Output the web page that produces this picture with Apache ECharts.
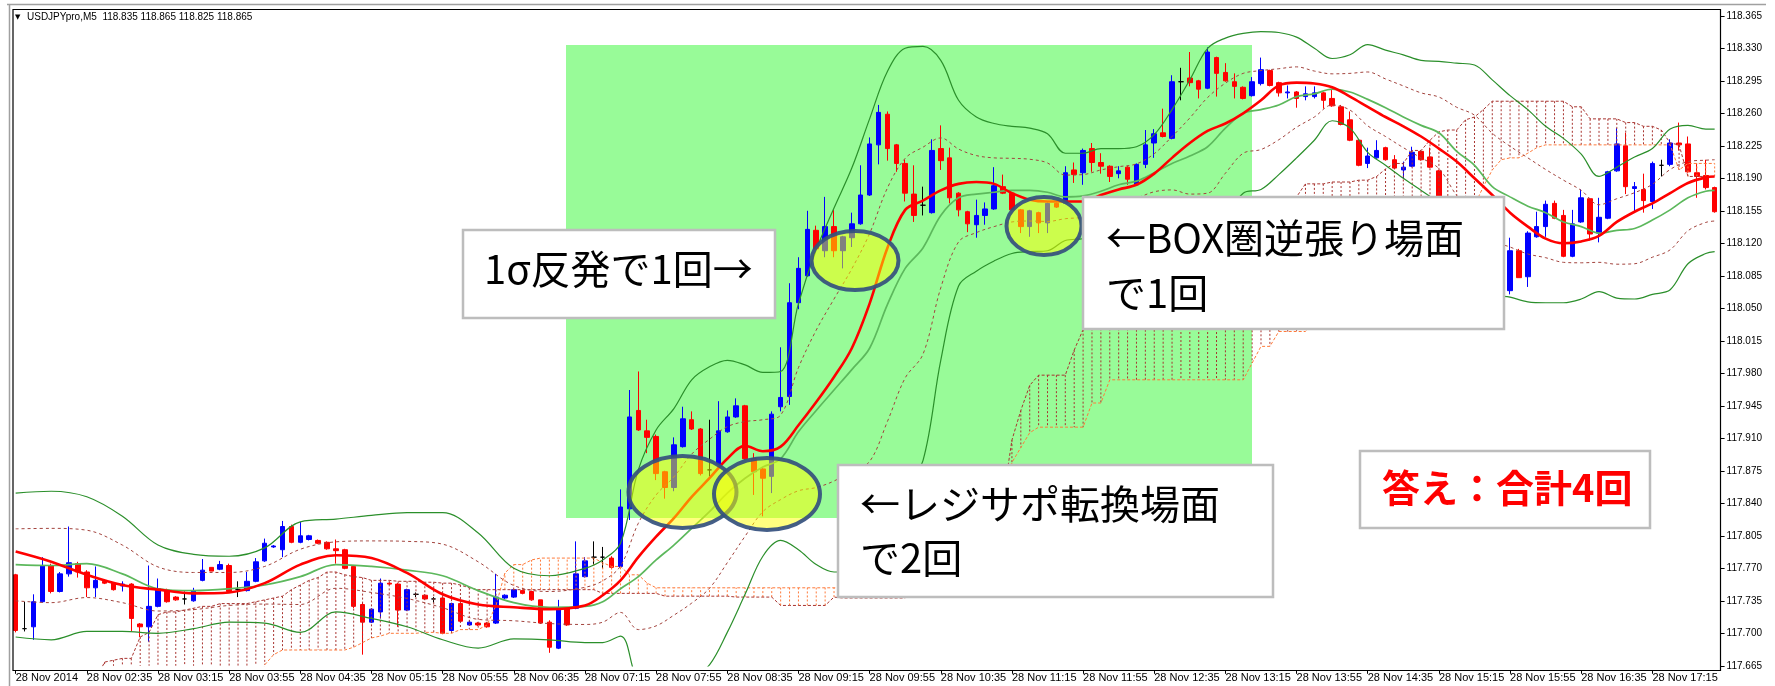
<!DOCTYPE html>
<html><head><meta charset="utf-8">
<script src="https://cdn.jsdelivr.net/npm/echarts@6/dist/echarts.min.js"></script>
<style>html,body{margin:0;padding:0;background:#fff}#c{width:1775px;height:686px}</style>
</head><body><div id="c"></div>
<script>
// ---- axis ticks ----
const tickLabels = ['28 Nov 2014','28 Nov 02:35','28 Nov 03:15','28 Nov 03:55','28 Nov 04:35','28 Nov 05:15','28 Nov 05:55','28 Nov 06:35','28 Nov 07:15','28 Nov 07:55','28 Nov 08:35','28 Nov 09:15','28 Nov 09:55','28 Nov 10:35','28 Nov 11:15','28 Nov 11:55','28 Nov 12:35','28 Nov 13:15','28 Nov 13:55','28 Nov 14:35','28 Nov 15:15','28 Nov 15:55','28 Nov 16:35','28 Nov 17:15'];
const yTicks = [117.665,117.700,117.735,117.770,117.805,117.840,117.875,117.910,117.945,117.980,118.015,118.050,118.085,118.120,118.155,118.190,118.225,118.260,118.295,118.330,118.365];
const yMin = 117.665, yMax = 118.365;

// ---- candles (M5 bars) ----
const opens = [117.763,117.705,117.707,117.734,117.773,117.745,117.764,117.775,117.766,117.749,117.756,117.754,117.751,117.753,117.710,117.707,117.729,117.746,117.739,117.737,117.735,117.757,117.771,117.769,117.773,117.747,117.746,117.756,117.778,117.793,117.790,117.815,117.798,117.801,117.800,117.798,117.791,117.790,117.772,117.731,117.712,117.723,117.754,117.753,117.725,117.742,117.741,117.737,117.738,117.703,117.732,117.709,117.711,117.711,117.711,117.738,117.739,117.746,117.745,117.736,117.712,117.684,117.727,117.727,117.761,117.782,117.782,117.781,117.772,117.834,117.940,117.918,117.912,117.874,117.857,117.901,117.930,117.920,117.876,117.882,117.917,117.933,117.945,117.888,117.877,117.869,117.944,117.955,118.056,118.085,118.134,118.112,118.138,118.112,118.126,118.141,118.172,118.226,118.259,118.226,118.206,118.173,118.161,118.153,118.222,118.212,118.174,118.154,118.140,118.150,118.157,118.181,118.174,118.156,118.138,118.153,118.142,118.163,118.163,118.199,118.196,118.222,118.207,118.203,118.195,118.202,118.183,118.205,118.228,118.239,118.233,118.294,118.298,118.295,118.287,118.320,118.304,118.294,118.288,118.279,118.292,118.306,118.293,118.282,118.283,118.278,118.278,118.282,118.276,118.267,118.253,118.231,118.206,118.212,118.223,118.210,118.199,118.203,118.219,118.213,118.198,118.160,118.135,118.142,118.110,118.090,118.098,118.075,118.069,118.112,118.084,118.127,118.138,118.163,118.150,118.106,118.143,118.168,118.131,118.147,118.198,118.225,118.179,118.178,118.165,118.204,118.205,118.228,118.227,118.196,118.193,118.180];
const closes = [117.703,117.705,117.734,117.773,117.745,117.764,117.776,117.766,117.749,117.757,117.754,117.747,117.753,117.716,117.707,117.729,117.748,117.734,117.736,117.737,117.746,117.768,117.767,117.774,117.745,117.747,117.756,117.777,117.797,117.794,117.815,117.798,117.805,117.805,117.797,117.791,117.789,117.770,117.729,117.712,117.726,117.754,117.753,117.725,117.747,117.742,117.737,117.737,117.700,117.732,117.713,117.712,117.709,117.707,117.739,117.741,117.747,117.743,117.736,117.711,117.685,117.727,117.709,117.764,117.778,117.782,117.782,117.771,117.836,117.933,117.919,117.911,117.872,117.857,117.903,117.931,117.920,117.872,117.876,117.918,117.933,117.945,117.888,117.874,117.867,117.936,117.954,118.056,118.093,118.135,118.114,118.138,118.112,118.127,118.141,118.172,118.227,118.261,118.222,118.206,118.174,118.150,118.161,118.220,118.209,118.169,118.156,118.141,118.150,118.157,118.182,118.174,118.156,118.138,118.155,118.142,118.163,118.159,118.196,118.194,118.220,118.207,118.203,118.192,118.198,118.189,118.205,118.226,118.238,118.235,118.294,118.294,118.293,118.286,118.326,118.303,118.295,118.289,118.276,118.294,118.307,118.290,118.282,118.283,118.276,118.281,118.282,118.274,118.268,118.248,118.231,118.204,118.214,118.220,118.210,118.201,118.202,118.218,118.210,118.202,118.160,118.135,118.142,118.110,118.090,118.098,118.075,118.069,118.112,118.083,118.131,118.138,118.162,118.147,118.106,118.141,118.169,118.130,118.148,118.197,118.227,118.181,118.181,118.166,118.206,118.204,118.228,118.226,118.197,118.192,118.180,118.154];
const lows = [117.701,117.702,117.693,117.733,117.743,117.744,117.761,117.760,117.739,117.739,117.753,117.746,117.745,117.702,117.696,117.691,117.728,117.733,117.735,117.731,117.734,117.756,117.767,117.768,117.744,117.739,117.745,117.755,117.777,117.792,117.782,117.797,117.797,117.800,117.796,117.790,117.775,117.769,117.727,117.677,117.711,117.716,117.752,117.707,117.724,117.739,117.736,117.733,117.699,117.702,117.712,117.708,117.708,117.706,117.710,117.737,117.738,117.742,117.735,117.710,117.679,117.683,117.708,117.726,117.760,117.774,117.770,117.769,117.771,117.822,117.918,117.894,117.865,117.845,117.853,117.900,117.919,117.870,117.869,117.881,117.916,117.932,117.887,117.849,117.826,117.851,117.939,117.946,118.049,118.084,118.113,118.105,118.105,118.093,118.116,118.140,118.171,118.205,118.209,118.197,118.165,118.143,118.150,118.152,118.199,118.163,118.149,118.132,118.126,118.140,118.156,118.173,118.155,118.131,118.127,118.131,118.131,118.158,118.162,118.185,118.183,118.197,118.195,118.186,118.190,118.183,118.182,118.201,118.212,118.234,118.232,118.274,118.289,118.276,118.286,118.278,118.294,118.276,118.275,118.278,118.290,118.289,118.278,118.276,118.266,118.274,118.276,118.265,118.267,118.247,118.230,118.203,118.201,118.211,118.209,118.200,118.190,118.202,118.209,118.201,118.155,118.130,118.128,118.105,118.083,118.085,118.070,118.062,118.065,118.083,118.073,118.126,118.127,118.146,118.105,118.105,118.142,118.123,118.121,118.146,118.197,118.173,118.154,118.153,118.157,118.192,118.203,118.220,118.196,118.169,118.178,118.153];
const highs = [117.764,117.734,117.742,117.782,117.775,117.766,117.815,117.777,117.768,117.772,117.757,117.755,117.756,117.754,117.711,117.773,117.759,117.748,117.740,117.745,117.749,117.780,117.771,117.778,117.775,117.756,117.766,117.781,117.802,117.795,117.821,117.817,117.820,117.806,117.801,117.799,117.801,117.791,117.773,117.733,117.727,117.759,117.755,117.754,117.748,117.744,117.742,117.739,117.739,117.733,117.733,117.714,117.712,117.712,117.764,117.742,117.749,117.747,117.746,117.736,117.714,117.736,117.727,117.799,117.782,117.799,117.793,117.783,117.855,117.962,117.982,117.930,117.914,117.875,117.911,117.944,117.939,117.921,117.930,117.950,117.940,117.953,117.946,117.894,117.878,117.939,118.008,118.077,118.105,118.155,118.139,118.170,118.156,118.128,118.153,118.204,118.234,118.269,118.262,118.227,118.210,118.204,118.181,118.232,118.247,118.223,118.175,118.155,118.167,118.164,118.202,118.194,118.175,118.157,118.156,118.154,118.164,118.164,118.203,118.207,118.222,118.228,118.217,118.204,118.203,118.203,118.206,118.242,118.243,118.265,118.301,118.309,118.326,118.296,118.331,118.321,118.314,118.303,118.289,118.299,118.320,118.307,118.294,118.290,118.284,118.289,118.289,118.283,118.286,118.269,118.262,118.232,118.223,118.231,118.224,118.215,118.208,118.224,118.219,118.223,118.199,118.165,118.150,118.146,118.115,118.104,118.101,118.080,118.126,118.114,118.133,118.154,118.166,118.166,118.156,118.156,118.178,118.169,118.169,118.198,118.244,118.239,118.186,118.195,118.208,118.210,118.232,118.250,118.235,118.206,118.210,118.181];

// ---- Bollinger bands and moving average, read at these bars ----
const bandBars = [0,4,8,12,16,20,24,28,32,36,40,44,48,52,56,60,64,66,68,70,72,74,76,78,80,82,84,86,88,90,92,94,96,98,100,102,104,106,108,110,112,114,116,118,120,122,124,126,128,130,132,134,136,138,140,142,144,146,148,150,152,154,156,158,160,162,164,166,168,170,172,174,176,178,180,182,184,186,188,190,191];
const maVals = [117.788,117.777,117.763,117.752,117.747,117.743,117.744,117.754,117.774,117.784,117.781,117.765,117.742,117.731,117.728,117.726,117.730,117.741,117.757,117.782,117.804,117.824,117.847,117.867,117.888,117.902,117.896,117.901,117.924,117.949,117.976,118.007,118.055,118.115,118.156,118.166,118.177,118.184,118.186,118.184,118.174,118.167,118.165,118.165,118.165,118.172,118.178,118.183,118.195,118.212,118.228,118.241,118.249,118.260,118.274,118.290,118.293,118.292,118.288,118.278,118.267,118.256,118.246,118.235,118.222,118.208,118.190,118.172,118.153,118.138,118.125,118.120,118.122,118.128,118.143,118.154,118.163,118.174,118.185,118.191,118.192];
const midVals = [117.774,117.773,117.775,117.764,117.748,117.746,117.748,117.752,117.761,117.774,117.772,117.768,117.762,117.746,117.733,117.728,117.729,117.734,117.748,117.761,117.779,117.795,117.813,117.831,117.851,117.867,117.879,117.888,117.917,117.940,117.962,117.984,118.007,118.054,118.093,118.115,118.150,118.169,118.173,118.175,118.177,118.177,118.175,118.170,118.171,118.176,118.183,118.187,118.196,118.206,118.214,118.224,118.244,118.260,118.264,118.269,118.278,118.281,118.286,118.283,118.275,118.266,118.256,118.247,118.239,118.219,118.204,118.181,118.170,118.160,118.153,118.143,118.138,118.131,118.134,118.136,118.145,118.156,118.169,118.176,118.177];
const up2Vals = [117.851,117.853,117.847,117.826,117.795,117.785,117.783,117.792,117.820,117.823,117.827,117.830,117.830,117.808,117.770,117.762,117.770,117.779,117.797,117.876,117.919,117.942,117.973,117.987,117.994,117.989,117.981,117.982,118.055,118.113,118.158,118.201,118.254,118.305,118.330,118.332,118.317,118.274,118.256,118.249,118.246,118.244,118.238,118.217,118.217,118.222,118.222,118.224,118.237,118.264,118.296,118.330,118.341,118.346,118.348,118.347,118.342,118.330,118.319,118.323,118.334,118.328,118.323,118.317,118.316,118.314,118.312,118.296,118.279,118.264,118.246,118.233,118.216,118.192,118.202,118.213,118.222,118.243,118.247,118.243,118.243];
const lo2Vals = [117.696,117.693,117.702,117.702,117.700,117.705,117.712,117.711,117.701,117.723,117.716,117.707,117.693,117.684,117.694,117.693,117.690,117.690,117.697,117.647,117.637,117.644,117.652,117.666,117.701,117.742,117.783,117.800,117.790,117.774,117.766,117.766,117.763,117.802,117.857,117.886,117.994,118.074,118.090,118.101,118.109,118.111,118.112,118.123,118.125,118.130,118.143,118.150,118.155,118.149,118.132,118.124,118.147,118.174,118.178,118.194,118.212,118.231,118.252,118.244,118.218,118.204,118.190,118.177,118.162,118.124,118.097,118.066,118.062,118.057,118.056,118.056,118.060,118.068,118.061,118.060,118.065,118.070,118.098,118.109,118.111];
const up1Vals = [117.8125,117.813,117.811,117.795,117.7715,117.7655,117.7655,117.772,117.7905,117.7985,117.7995,117.799,117.796,117.777,117.7515,117.745,117.7495,117.7565,117.7725,117.8185,117.849,117.8685,117.893,117.909,117.9225,117.928,117.930,117.935,117.986,118.0265,118.060,118.0925,118.1305,118.1795,118.2115,118.2235,118.2335,118.2215,118.2145,118.212,118.2115,118.2105,118.2065,118.1935,118.194,118.199,118.2025,118.2055,118.2165,118.235,118.255,118.277,118.2925,118.303,118.306,118.308,118.310,118.3055,118.3025,118.303,118.3045,118.297,118.2895,118.282,118.2775,118.2665,118.258,118.2385,118.2245,118.212,118.1995,118.188,118.177,118.1615,118.168,118.1745,118.1835,118.1995,118.208,118.2095,118.210];
const lo1Vals = [117.735,117.733,117.7385,117.733,117.724,117.7255,117.730,117.7315,117.731,117.7485,117.744,117.7375,117.7275,117.715,117.7135,117.7105,117.7095,117.712,117.7225,117.704,117.708,117.7195,117.7325,117.7485,117.776,117.8045,117.831,117.844,117.8535,117.857,117.864,117.875,117.885,117.928,117.975,118.0005,118.072,118.1215,118.1315,118.138,118.143,118.144,118.1435,118.1465,118.148,118.153,118.163,118.1685,118.1755,118.1775,118.173,118.174,118.1955,118.217,118.221,118.2315,118.245,118.256,118.269,118.2635,118.2465,118.235,118.223,118.212,118.2005,118.1715,118.1505,118.1235,118.116,118.1085,118.1045,118.0995,118.099,118.0995,118.0975,118.098,118.105,118.113,118.1335,118.1425,118.144];

// ---- Ichimoku cloud spans (per bar) ----
const spanA = [117.650,117.650,117.650,117.650,117.650,117.650,117.650,117.650,117.650,117.650,
117.669,117.671,117.673,117.673,117.696,117.701,117.720,117.723,117.723,117.725,
117.727,117.729,117.729,117.732,117.732,117.732,117.732,117.734,117.736,117.738,
117.740,117.747,117.752,117.757,117.760,117.766,117.766,117.763,117.761,117.760,
117.757,117.757,117.757,117.756,117.756,117.756,117.755,117.755,117.754,117.754,
117.752,117.749,117.747,117.747,117.747,117.747,117.747,117.747,117.747,117.747,
117.747,117.747,117.747,117.747,117.747,117.747,117.743,117.743,117.743,117.743,
117.743,117.743,117.743,117.740,117.740,117.740,117.740,117.740,117.740,117.740,
117.740,117.739,117.739,117.739,117.739,117.739,117.730,117.730,117.730,117.730,
117.730,117.730,117.739,117.738,117.738,117.738,117.738,117.738,117.738,117.738,
117.738,117.779,117.779,117.779,117.779,117.779,117.779,117.844,117.844,117.844,
117.844,117.844,117.908,117.940,117.967,117.978,117.978,117.978,117.978,118.005,
118.027,118.037,118.037,118.037,118.037,118.037,118.070,118.070,118.070,118.070,
118.070,118.102,118.102,118.102,118.102,118.102,118.134,118.134,118.134,118.134,
118.134,118.156,118.156,118.156,118.170,118.184,118.184,118.184,118.186,118.186,
118.186,118.188,118.188,118.192,118.200,118.206,118.206,118.220,118.220,118.231,
118.240,118.242,118.242,118.253,118.256,118.264,118.273,118.273,118.273,118.273,
118.273,118.273,118.273,118.273,118.273,118.267,118.267,118.254,118.254,118.254,
118.254,118.250,118.250,118.246,118.246,118.242,118.228,118.226,118.192,118.192,
118.192,118.192];
const spanB = [117.630,117.630,117.630,117.630,117.630,117.630,117.630,117.630,117.630,117.630,
117.630,117.630,117.630,117.630,117.630,117.630,117.630,117.630,117.630,117.630,
117.630,117.630,117.630,117.630,117.630,117.630,117.630,117.630,117.666,117.677,
117.682,117.682,117.682,117.682,117.682,117.682,117.682,117.682,117.685,117.690,
117.695,117.697,117.700,117.700,117.700,117.700,117.701,117.701,117.700,117.700,
117.704,117.704,117.704,117.709,117.730,117.765,117.774,117.774,117.779,117.781,
117.781,117.781,117.781,117.781,117.781,117.781,117.776,117.772,117.772,117.763,
117.763,117.754,117.749,117.749,117.749,117.749,117.749,117.749,117.749,117.749,
117.749,117.749,117.749,117.749,117.749,117.749,117.749,117.749,117.749,117.749,
117.749,117.749,117.749,117.749,117.749,117.749,117.749,117.749,117.749,117.749,
117.749,117.749,117.749,117.749,117.749,117.749,117.815,117.815,117.815,117.815,
117.815,117.815,117.884,117.900,117.916,117.922,117.922,117.922,117.922,117.922,
117.922,117.948,117.948,117.973,117.973,117.973,117.973,117.973,117.973,117.973,
117.973,117.973,117.973,117.973,117.973,117.973,117.973,117.973,117.973,117.991,
118.009,118.009,118.025,118.025,118.025,118.025,118.037,118.037,118.037,118.037,
118.037,118.070,118.070,118.070,118.070,118.070,118.102,118.102,118.102,118.102,
118.102,118.134,118.134,118.134,118.161,118.181,118.199,118.210,118.212,118.212,
118.217,118.223,118.226,118.226,118.226,118.226,118.226,118.226,118.226,118.226,
118.226,118.226,118.226,118.226,118.226,118.226,118.226,118.199,118.206,118.206,
118.206,118.206];

// ---- build ----
const cats = opens.map((_, i) => {
  const m = 115 + 5 * i;
  const hh = String(Math.floor(m / 60)).padStart(2, '0');
  const mm = String(m % 60).padStart(2, '0');
  return '28 Nov ' + hh + ':' + mm;
});
const candleData = opens.map((o, i) => [o, closes[i], lows[i], highs[i]]);
const pairs = vals => bandBars.map((b, k) => [b, vals[k]]);
const cloudData = spanA.map((a, i) => [i, a, spanB[i]]);

const DARKRED = '#a83430', ORANGE = '#ff7a3a', BROWN = '#a3443e';
function bandLine(name, vals, color, width, dash, z) {
  return {
    name, type: 'line', data: pairs(vals), symbol: 'none', smooth: 0.35, z,
    lineStyle: { color, width, type: dash || 'solid' }, silent: true
  };
}

const chart = echarts.init(document.getElementById('c'), null, { renderer: 'canvas' });
const jp = '"Noto Sans CJK JP", "Noto Sans CJK SC", sans-serif';

function textBox(x, y, w, h, lines, opts) {
  const els = [{
    type: 'rect', shape: { x, y, width: w, height: h },
    style: { fill: '#ffffff', stroke: '#bdbdbd', lineWidth: 2.5 }, z: 50
  }];
  lines.forEach(l => {
    els.push({
      type: 'text', z: 51,
      style: {
        text: l.t, x: l.x, y: l.y, fill: opts.color || '#000',
        font: (opts.weight || 'normal') + ' ' + opts.size + 'px ' + jp,
        textVerticalAlign: 'middle', verticalAlign: 'middle', textAlign: 'left', align: 'left'
      }
    });
  });
  return els;
}
function ellipse(cx, cy, rx, ry) {
  return {
    type: 'ellipse', shape: { cx, cy, rx, ry }, z: 40,
    style: { fill: 'rgba(255,255,0,0.5)', stroke: 'rgba(52,80,126,0.92)', lineWidth: 4 }
  };
}

const graphics = [
  { type: 'rect', shape: { x: 566, y: 45, width: 686, height: 473 }, style: { fill: '#98FB98' }, z: 0 },
  { type: 'line', shape: { x1: 7, y1: 4.5, x2: 1766, y2: 4.5 }, style: { stroke: '#a0a0a0', lineWidth: 1.5 }, z: 60 },
  { type: 'line', shape: { x1: 9.5, y1: 4, x2: 9.5, y2: 686 }, style: { stroke: '#a0a0a0', lineWidth: 1.5 }, z: 60 },
  { type: 'rect', shape: { x: 13, y: 9.5, width: 1707.5, height: 661 }, style: { fill: 'none', stroke: '#000', lineWidth: 1.2 }, z: 60 },
  { type: 'text', z: 61, style: { text: '▼', x: 15, y: 17, font: '7px "DejaVu Sans"', fill: '#000', textVerticalAlign: 'middle', verticalAlign: 'middle' } },
  { type: 'text', z: 61, style: { text: 'USDJPYpro,M5  118.835 118.865 118.825 118.865', x: 27, y: 17, font: '10px "Liberation Sans", Arial, sans-serif', fill: '#000', textVerticalAlign: 'middle', verticalAlign: 'middle' } },
  ellipse(682.5, 492, 54, 36),
  ellipse(767, 494, 53, 36),
  ellipse(855, 260.5, 43.5, 29.5),
  ellipse(1044, 226, 37.5, 29),
  ...textBox(463, 230, 312, 88, [{ t: '1σ反発で1回→', x: 484, y: 269 }], { size: 40 }),
  ...textBox(1083, 197, 421, 132, [{ t: '←BOX圏逆張り場面', x: 1106, y: 238 }, { t: 'で1回', x: 1106, y: 293 }], { size: 40 }),
  ...textBox(838, 465, 435, 132, [{ t: '←レジサポ転換場面', x: 860, y: 504 }, { t: 'で2回', x: 860, y: 558 }], { size: 40 }),
  ...textBox(1360, 451, 290, 77, [{ t: '答え：合計4回', x: 1382, y: 488 }], { size: 38, color: '#ff0000', weight: 'bold' })
];

const option = {
  animation: false,
  backgroundColor: '#ffffff',
  grid: { left: 11.2, right: 55.9, top: 15.8, bottom: 20.2, containLabel: false, outerBoundsMode: 'none' },
  xAxis: {
    type: 'category', data: cats, boundaryGap: true, offset: 5,
    axisLine: { show: false },
    axisTick: { show: true, alignWithLabel: true, length: 3, interval: i => i % 8 === 0, lineStyle: { color: '#000' } },
    axisLabel: {
      interval: i => i % 8 === 0, formatter: (v, i) => tickLabels[Math.round(i / 8)] || '',
      align: 'left', margin: 2, fontSize: 11, color: '#000', fontFamily: '"Liberation Sans", Arial, sans-serif'
    },
    splitLine: { show: false }
  },
  yAxis: {
    type: 'value', min: yMin, max: yMax, position: 'right', offset: 1.5, scale: true,
    axisLine: { show: false }, splitLine: { show: false },
    axisTick: { show: true, length: 4, customValues: yTicks, lineStyle: { color: '#000' } },
    axisLabel: {
      customValues: yTicks, formatter: v => Number(v).toFixed(3), margin: 6,
      fontSize: 10, color: '#000', fontFamily: '"Liberation Sans", Arial, sans-serif'
    }
  },
  graphic: { elements: graphics },
  series: [
    {
      name: 'USDJPY', type: 'candlestick', data: candleData, barWidth: 5, z: 2, silent: true,
      itemStyle: {
        color: '#0000ff', color0: '#ff0000', borderColor: '#0000ff', borderColor0: '#ff0000',
        borderColorDoji: '#000000', borderWidth: 1
      }
    },
    {
      name: 'cloud', type: 'custom', data: cloudData, z: 3, silent: true,
      encode: { x: 0, y: [1, 2] },
      renderItem: function (params, api) {
        const i = api.value(0), a = api.value(1), b = api.value(2);
        const p1 = api.coord([i, a]), p2 = api.coord([i, b]);
        const cs = params.coordSys;
        const top = cs.y, bot = cs.y + cs.height;
        const y1 = Math.max(top, Math.min(bot, p1[1]));
        const y2 = Math.max(top, Math.min(bot, p2[1]));
        if (Math.abs(y1 - y2) < 0.5) return null;
        return {
          type: 'line', shape: { x1: p1[0], y1: y1, x2: p1[0], y2: y2 },
          style: { stroke: a >= b ? DARKRED : ORANGE, lineWidth: 1, lineDash: [2, 2] }
        };
      }
    },
    { name: 'spanA', type: 'line', data: spanA, symbol: 'none', z: 3, silent: true, lineStyle: { color: DARKRED, width: 1, type: [3, 2] } },
    { name: 'spanB', type: 'line', data: spanB, symbol: 'none', z: 3, silent: true, lineStyle: { color: ORANGE, width: 1, type: [3, 2] } },
    bandLine('+1σ', up1Vals, BROWN, 1, [3, 3], 4),
    bandLine('-1σ', lo1Vals, BROWN, 1, [3, 3], 4),
    bandLine('+2σ', up2Vals, '#2b8f2b', 1.2, null, 4),
    bandLine('-2σ', lo2Vals, '#2b8f2b', 1.2, null, 4),
    bandLine('mid', midVals, '#5cb85c', 1.7, null, 4),
    bandLine('MA', maVals, '#ff0000', 2.6, null, 5)
  ]
};
chart.setOption(option);
</script>
</body></html>
